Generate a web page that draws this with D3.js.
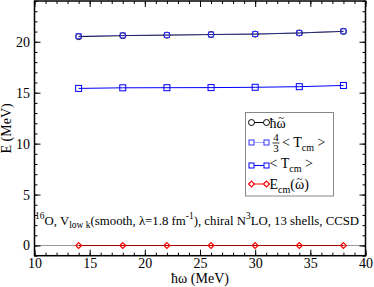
<!DOCTYPE html>
<html>
<head>
<meta charset="utf-8">
<script src="https://cdn.jsdelivr.net/npm/d3@7"></script>
<style>
  body { margin: 0; background: #fff; }
  svg text { font-family: "Liberation Serif", "Times New Roman", "DejaVu Serif", serif; }
</style>
</head>
<body>
<div id="chart"></div>
<script>
// data
var hw = [14, 18, 22, 26, 30, 34, 38];
var hwTilde = [20.5, 20.6, 20.65, 20.71, 20.75, 20.86, 21.02];
var tcmFour3 = [20.55, 20.62, 20.66, 20.71, 20.76, 20.87, 21.03];
var tcm = [15.42, 15.48, 15.49, 15.5, 15.53, 15.59, 15.71];
var ecm = [0, 0, 0, 0, 0, 0, 0];
var xTicks = [10, 15, 20, 25, 30, 35, 40];
var yTicks = [0, 5, 10, 15, 20];

var svgWidth = 374;
var svgHeight = 287;
var margin = { top: 1, right: 8.5, bottom: 31.3, left: 34.5 };
var width = svgWidth - margin.left - margin.right;
var height = svgHeight - margin.top - margin.bottom;

var svg = d3.select("#chart").append("svg")
  .attr("width", svgWidth)
  .attr("height", svgHeight);

var g = svg.append("g")
  .attr("transform", `translate(${margin.left}, ${margin.top})`);

var x = d3.scaleLinear().domain([10, 40]).range([0, width]);
var y = d3.scaleLinear().domain([-1, 24]).range([height, 0]);

// zero line
g.append("line")
  .attr("x1", 0).attr("x2", width)
  .attr("y1", y(0)).attr("y2", y(0))
  .attr("stroke", "#999").attr("stroke-width", 1);

// minor ticks on all four sides
var xMinor = d3.range(10, 41, 1);
var yMinor = d3.range(-1, 25, 1);
g.append("g").attr("transform", `translate(0, ${height})`)
  .call(d3.axisBottom(x).tickValues(xMinor).tickSize(-3).tickFormat(""));
g.append("g")
  .call(d3.axisTop(x).tickValues(xMinor).tickSize(-3).tickFormat(""));
g.append("g")
  .call(d3.axisLeft(y).tickValues(yMinor).tickSize(-3).tickFormat(""));
g.append("g").attr("transform", `translate(${width}, 0)`)
  .call(d3.axisRight(y).tickValues(yMinor).tickSize(-3).tickFormat(""));

// major ticks
g.append("g").attr("transform", `translate(0, ${height})`)
  .call(d3.axisBottom(x).tickValues(xTicks).tickSize(-6).tickPadding(2.5));
g.append("g")
  .call(d3.axisTop(x).tickValues(xTicks).tickSize(-6).tickFormat(""));
g.append("g")
  .call(d3.axisLeft(y).tickValues(yTicks).tickSize(-6).tickPadding(4.5));
g.append("g").attr("transform", `translate(${width}, 0)`)
  .call(d3.axisRight(y).tickValues(yTicks).tickSize(-6).tickFormat(""));

g.selectAll(".domain").remove();
g.selectAll(".tick line").attr("stroke", "#000").attr("stroke-width", 1);
g.selectAll(".tick text")
  .attr("font-size", 14)
  .attr("fill", "#000");
g.selectAll("g").attr("font-family", null);

// frame
g.append("rect")
  .attr("width", width).attr("height", height)
  .attr("fill", "none").attr("stroke", "#000").attr("stroke-width", 1.5);

// series
var line = d3.line().x(d => x(d[0])).y(d => y(d[1]));
function pts(vals) { return hw.map((h, i) => [h, vals[i]]); }

g.append("path").datum(pts(hwTilde))
  .attr("d", line).attr("fill", "none").attr("stroke", "#000").attr("stroke-width", 1);
g.append("path").datum(pts(tcmFour3))
  .attr("d", line).attr("fill", "none").attr("stroke", "#5555ff")
  .attr("stroke-width", 1).attr("stroke-dasharray", "1,1");
g.append("path").datum(pts(tcm))
  .attr("d", line).attr("fill", "none").attr("stroke", "#0000ff").attr("stroke-width", 1);
g.append("path").datum(pts(ecm))
  .attr("d", line).attr("fill", "none").attr("stroke", "#a00000").attr("stroke-width", 1.2);

g.selectAll(".circ").data(pts(hwTilde)).enter().append("circle")
  .attr("cx", d => x(d[0])).attr("cy", d => y(d[1])).attr("r", 3)
  .attr("fill", "none").attr("stroke", "#000").attr("stroke-width", 1);
g.selectAll(".sq43").data(pts(tcmFour3)).enter().append("rect")
  .attr("x", d => x(d[0]) - 2.5).attr("y", d => y(d[1]) - 2.5)
  .attr("width", 5).attr("height", 5)
  .attr("fill", "none").attr("stroke", "#3333ff").attr("stroke-width", 1);
g.selectAll(".sq").data(pts(tcm)).enter().append("rect")
  .attr("x", d => x(d[0]) - 3).attr("y", d => y(d[1]) - 3)
  .attr("width", 6).attr("height", 6)
  .attr("fill", "none").attr("stroke", "#0000ff").attr("stroke-width", 1);
var diamond = d3.symbol().type(d3.symbolDiamond2).size(22);
g.selectAll(".dia").data(pts(ecm)).enter().append("path")
  .attr("d", diamond)
  .attr("transform", d => `translate(${x(d[0])}, ${y(d[1])})`)
  .attr("fill", "none").attr("stroke", "#ff0000").attr("stroke-width", 1.2);

// axis titles
svg.append("text")
  .attr("x", 200).attr("y", 283)
  .attr("text-anchor", "middle").attr("font-size", 14)
  .text("ħω (MeV)");
svg.append("text")
  .attr("transform", `translate(11, ${margin.top + height / 2}) rotate(-90)`)
  .attr("text-anchor", "middle").attr("font-size", 14)
  .text("E (MeV)");

// annotation
var ann = svg.append("text")
  .attr("x", 35).attr("y", 224.5).attr("font-size", 12.8);
ann.append("tspan").attr("dy", -6).attr("font-size", 9.5).text("16");
ann.append("tspan").attr("dy", 6).text("O, V");
ann.append("tspan").attr("dy", 3).attr("font-size", 9.5).text("low k");
ann.append("tspan").attr("dy", -3).text("(smooth, λ=1.8 fm");
ann.append("tspan").attr("dy", -6).attr("font-size", 9.5).text("-1");
ann.append("tspan").attr("dy", 6).text("), chiral N");
ann.append("tspan").attr("dy", -6).attr("font-size", 9.5).text("3");
ann.append("tspan").attr("dy", 6).text("LO, 13 shells, CCSD");

// legend
var lg = svg.append("g");
lg.append("rect")
  .attr("x", 245.5).attr("y", 112.5).attr("width", 88).attr("height", 83.5)
  .attr("fill", "#fff").attr("stroke", "#888").attr("stroke-width", 1);

var legendY = [122.5, 142.5, 165.5, 184];
var lx1 = 251.5, lx2 = 266.5;
function legLine(yy, color, dash, w) {
  lg.append("line").attr("x1", lx1).attr("x2", lx2).attr("y1", yy).attr("y2", yy)
    .attr("stroke", color).attr("stroke-width", w || 1)
    .attr("stroke-dasharray", dash || null);
}
legLine(legendY[0], "#000");
[lx1, lx2].forEach(function(xx) {
  lg.append("circle").attr("cx", xx).attr("cy", legendY[0]).attr("r", 3)
    .attr("fill", "#fff").attr("stroke", "#000");
});
legLine(legendY[1], "#5555ff", "1,1");
[lx1, lx2].forEach(function(xx) {
  lg.append("rect").attr("x", xx - 2.5).attr("y", legendY[1] - 2.5).attr("width", 5).attr("height", 5)
    .attr("fill", "#fff").attr("stroke", "#3333ff");
});
legLine(legendY[2], "#0000ff");
[lx1, lx2].forEach(function(xx) {
  lg.append("rect").attr("x", xx - 2.5).attr("y", legendY[2] - 2.5).attr("width", 5).attr("height", 5)
    .attr("fill", "#fff").attr("stroke", "#0000ff");
});
legLine(legendY[3], "#ff0000");
[lx1, lx2].forEach(function(xx) {
  lg.append("path").attr("d", diamond).attr("transform", `translate(${xx}, ${legendY[3]})`)
    .attr("fill", "#fff").attr("stroke", "#ff0000").attr("stroke-width", 1.2);
});

// omega with a tilde tspan set back over it, inside the same text
function omegaTilde(txt, after) {
  var om = txt.append("tspan").text("ω");
  var wOm = om.node().getComputedTextLength();
  var tl = txt.append("tspan").attr("font-size", 11).text("~");
  var wT = tl.node().getComputedTextLength();
  tl.attr("dx", -(wOm + wT) / 2).attr("dy", -7);
  if (after) {
    txt.append("tspan").attr("dx", (wOm - wT) / 2).attr("dy", 7).text(after);
  }
}

var t1 = lg.append("text").attr("x", 269.5).attr("y", 127.5).attr("font-size", 14);
t1.append("tspan").text("ħ");
omegaTilde(t1, null);
// 4/3 fraction
lg.append("text").attr("x", 276).attr("y", 141).attr("font-size", 11)
  .attr("text-anchor", "middle").text("4");
lg.append("line").attr("x1", 272.5).attr("x2", 279.5).attr("y1", 143).attr("y2", 143)
  .attr("stroke", "#000").attr("stroke-width", 0.8);
lg.append("text").attr("x", 276).attr("y", 152).attr("font-size", 11)
  .attr("text-anchor", "middle").text("3");
var t2 = lg.append("text").attr("x", 282).attr("y", 147).attr("font-size", 14);
t2.append("tspan").text("< T");
t2.append("tspan").attr("dy", 4).attr("font-size", 10).text("cm");
t2.append("tspan").attr("dy", -4).text(" >");
var t3 = lg.append("text").attr("x", 269.5).attr("y", 168).attr("font-size", 14);
t3.append("tspan").text("< T");
t3.append("tspan").attr("dy", 4).attr("font-size", 10).text("cm");
t3.append("tspan").attr("dy", -4).text(" >");
var t4 = lg.append("text").attr("x", 269.5).attr("y", 188.5).attr("font-size", 14);
t4.append("tspan").text("E");
t4.append("tspan").attr("dy", 4).attr("font-size", 10).text("cm");
t4.append("tspan").attr("dy", -4).text("(");
omegaTilde(t4, ")");
</script>
</body>
</html>
